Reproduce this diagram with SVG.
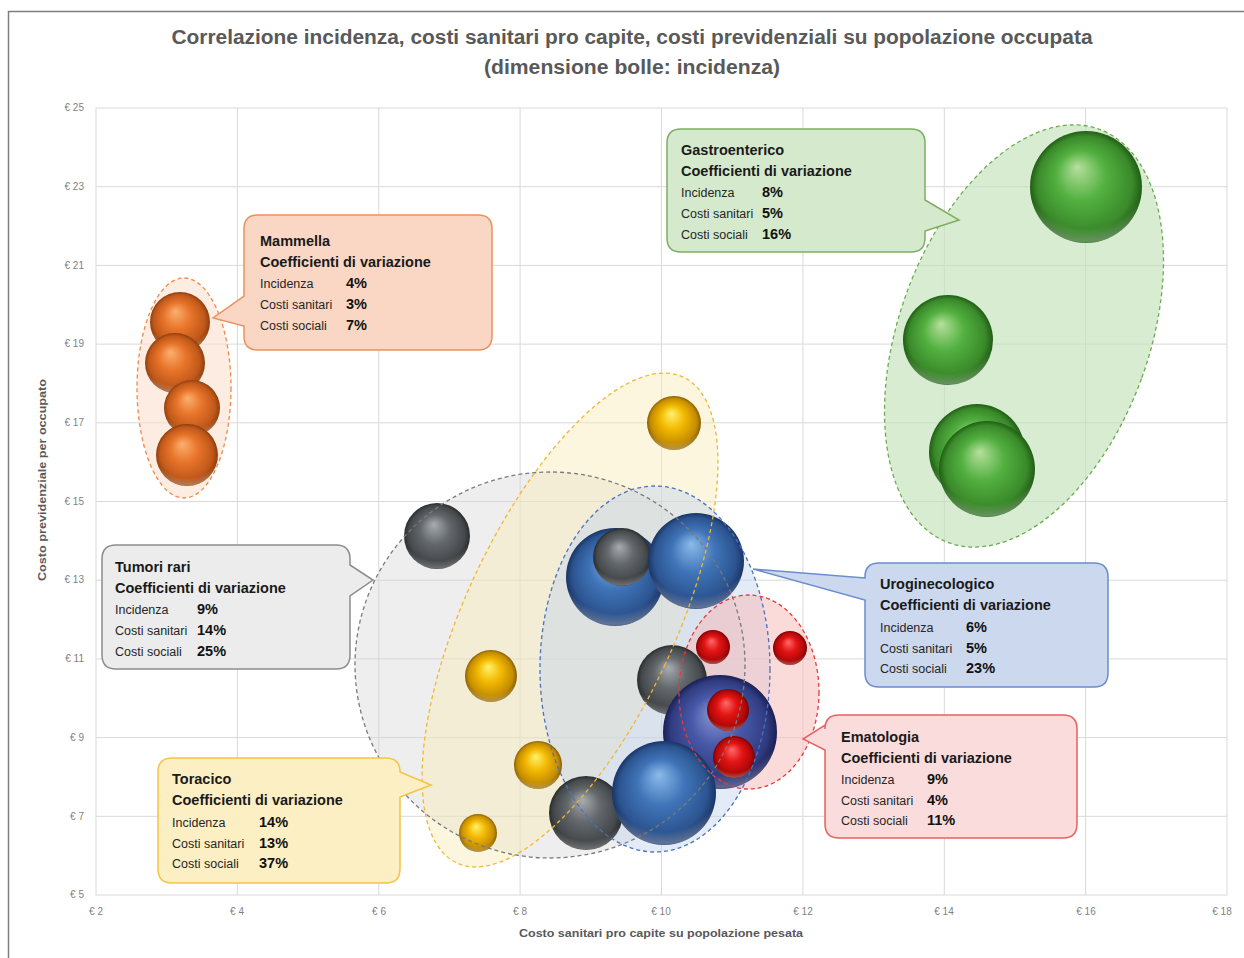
<svg xmlns="http://www.w3.org/2000/svg" width="1244" height="958" viewBox="0 0 1244 958">
<style>
.grid{stroke:#d9d9d9;stroke-width:1;fill:none}
.tick{font-family:"Liberation Sans",Arial,sans-serif;font-size:10px;fill:#7f7f7f}
.ttl{font-family:"Liberation Sans",Arial,sans-serif;font-size:20px;font-weight:bold;fill:#595959}
.axt{font-family:"Liberation Sans",Arial,sans-serif;font-size:11px;font-weight:bold;fill:#595959}
.ch{font-family:"Liberation Sans",Arial,sans-serif;font-size:14.5px;font-weight:bold;fill:#1a1a1a}
.cl{font-family:"Liberation Sans",Arial,sans-serif;font-size:12.5px;fill:#262626}
.cv{font-family:"Liberation Sans",Arial,sans-serif;font-size:14.5px;font-weight:bold;fill:#111}
.ell{stroke-width:1.3;stroke-dasharray:4 3}
.co{stroke-width:1.5}
.rim{fill:url(#gRim)}
</style>
<defs>
<radialGradient id="gOr" cx="0.5" cy="0.5" r="0.5" fx="0.42" fy="0.32"><stop offset="0" stop-color="#fbb070"/><stop offset="0.45" stop-color="#e8742a"/><stop offset="0.85" stop-color="#c0581a"/><stop offset="1" stop-color="#8e3e0c"/></radialGradient>
<radialGradient id="gGo" cx="0.5" cy="0.5" r="0.5" fx="0.45" fy="0.32"><stop offset="0" stop-color="#fff36a"/><stop offset="0.45" stop-color="#f2b800"/><stop offset="0.85" stop-color="#c58d00"/><stop offset="1" stop-color="#8a6000"/></radialGradient>
<radialGradient id="gGr" cx="0.5" cy="0.5" r="0.5" fx="0.45" fy="0.32"><stop offset="0" stop-color="#a9adb1"/><stop offset="0.45" stop-color="#63686c"/><stop offset="0.85" stop-color="#45494c"/><stop offset="1" stop-color="#2a2c2e"/></radialGradient>
<radialGradient id="gBl" cx="0.5" cy="0.5" r="0.5" fx="0.45" fy="0.32"><stop offset="0" stop-color="#8cbbea"/><stop offset="0.45" stop-color="#3f74b8"/><stop offset="0.85" stop-color="#2c5490"/><stop offset="1" stop-color="#1a3566"/></radialGradient>
<radialGradient id="gPu" cx="0.5" cy="0.5" r="0.5" fx="0.45" fy="0.32"><stop offset="0" stop-color="#8c9ad6"/><stop offset="0.45" stop-color="#4858a8"/><stop offset="0.85" stop-color="#303c80"/><stop offset="1" stop-color="#1a1f55"/></radialGradient>
<radialGradient id="gRe" cx="0.5" cy="0.5" r="0.5" fx="0.45" fy="0.32"><stop offset="0" stop-color="#ff6a6a"/><stop offset="0.45" stop-color="#e31414"/><stop offset="0.85" stop-color="#b00808"/><stop offset="1" stop-color="#7a0000"/></radialGradient>
<radialGradient id="gGn" cx="0.5" cy="0.5" r="0.5" fx="0.42" fy="0.32"><stop offset="0" stop-color="#b6e09c"/><stop offset="0.45" stop-color="#52b040"/><stop offset="0.85" stop-color="#3a8a2a"/><stop offset="1" stop-color="#215e16"/></radialGradient>
<radialGradient id="gRim" cx="0.5" cy="0.3" r="0.72"><stop offset="0.8" stop-color="#ffffff" stop-opacity="0"/><stop offset="0.95" stop-color="#ffffff" stop-opacity="0.3"/><stop offset="1" stop-color="#ffffff" stop-opacity="0.05"/></radialGradient>
</defs>
<rect width="1244" height="958" fill="#ffffff"/>
<path d="M8.5,958 V11.5 H1244" fill="none" stroke="#7f7f7f" stroke-width="1.5"/>
<g id="title">
<text class="ttl" x="632" y="44" text-anchor="middle" textLength="921" lengthAdjust="spacingAndGlyphs">Correlazione incidenza, costi sanitari pro capite, costi previdenziali su popolazione occupata</text>
<text class="ttl" x="632" y="74" text-anchor="middle" textLength="296" lengthAdjust="spacingAndGlyphs">(dimensione bolle: incidenza)</text>
</g>
<g id="grid">
<rect class="grid" x="96" y="108" width="1131" height="787"/>
<path class="grid" d="M237.4,108V895M378.8,108V895M520.1,108V895M661.5,108V895M802.9,108V895M944.3,108V895M1085.6,108V895M96,186.7H1227M96,265.4H1227M96,344.1H1227M96,422.8H1227M96,501.5H1227M96,580.2H1227M96,658.9H1227M96,737.6H1227M96,816.3H1227"/>
</g>
<g id="axes">
<g class="tick" text-anchor="end">
<text x="84" y="111">€ 25</text><text x="84" y="190">€ 23</text><text x="84" y="269">€ 21</text><text x="84" y="347">€ 19</text><text x="84" y="426">€ 17</text><text x="84" y="505">€ 15</text><text x="84" y="583">€ 13</text><text x="84" y="662">€ 11</text><text x="84" y="741">€ 9</text><text x="84" y="820">€ 7</text><text x="84" y="898">€ 5</text>
</g>
<g class="tick" text-anchor="middle">
<text x="96" y="915">€ 2</text><text x="237" y="915">€ 4</text><text x="379" y="915">€ 6</text><text x="520" y="915">€ 8</text><text x="661" y="915">€ 10</text><text x="803" y="915">€ 12</text><text x="944" y="915">€ 14</text><text x="1086" y="915">€ 16</text><text x="1222" y="915">€ 18</text>
</g>
<text class="axt" x="661" y="937" text-anchor="middle" textLength="284" lengthAdjust="spacingAndGlyphs">Costo sanitari pro capite su popolazione pesata</text>
<text class="axt" transform="translate(46,480) rotate(-90)" text-anchor="middle" textLength="202" lengthAdjust="spacingAndGlyphs">Costo previdenziale per occupato</text>
</g>
<g id="cluster-fills">
<ellipse cx="184" cy="388" rx="47" ry="110" fill="#fbe0cf" fill-opacity="0.6"/>
<ellipse cx="550" cy="665" rx="195" ry="193" fill="#d4d4d4" fill-opacity="0.4"/>
<ellipse cx="570" cy="620" rx="105" ry="268" transform="rotate(25 570 620)" fill="#fbeab8" fill-opacity="0.45"/>
<ellipse cx="655" cy="669" rx="115" ry="183" fill="#c2d3ee" fill-opacity="0.45"/>
<ellipse cx="749" cy="692" rx="70" ry="97" fill="#f7bcbc" fill-opacity="0.55"/>
<ellipse cx="1024" cy="336" rx="125" ry="220" transform="rotate(20 1024 336)" fill="#c3e2b8" fill-opacity="0.65"/>
</g>
<g id="bubbles">
<g id="b-mam-1"><circle cx="180" cy="322" r="30" fill="url(#gOr)"/><circle class="rim" cx="180" cy="322" r="30"/></g>
<g id="b-mam-2"><circle cx="175" cy="363" r="30" fill="url(#gOr)"/><circle class="rim" cx="175" cy="363" r="30"/></g>
<g id="b-mam-3"><circle cx="192" cy="408" r="28" fill="url(#gOr)"/><circle class="rim" cx="192" cy="408" r="28"/></g>
<g id="b-mam-4"><circle cx="187" cy="455" r="31" fill="url(#gOr)"/><circle class="rim" cx="187" cy="455" r="31"/></g>
<g id="b-gas-1"><circle cx="1086" cy="187" r="56" fill="url(#gGn)"/><circle class="rim" cx="1086" cy="187" r="56"/></g>
<g id="b-gas-2"><circle cx="948" cy="340" r="45" fill="url(#gGn)"/><circle class="rim" cx="948" cy="340" r="45"/></g>
<g id="b-gas-3"><circle cx="977" cy="452" r="48" fill="url(#gGn)"/><circle class="rim" cx="977" cy="452" r="48"/></g>
<g id="b-gas-4"><circle cx="987" cy="469" r="48" fill="url(#gGn)"/><circle class="rim" cx="987" cy="469" r="48"/></g>
<g id="b-tum-1"><circle cx="437" cy="536" r="33" fill="url(#gGr)"/><circle class="rim" cx="437" cy="536" r="33"/></g>
<g id="b-uro-1"><circle cx="615" cy="577" r="49" fill="url(#gBl)"/><circle class="rim" cx="615" cy="577" r="49"/></g>
<g id="b-tum-2"><circle cx="622" cy="557" r="29" fill="url(#gGr)"/><circle class="rim" cx="622" cy="557" r="29"/></g>
<g id="b-uro-2"><circle cx="696" cy="561" r="48" fill="url(#gBl)"/><circle class="rim" cx="696" cy="561" r="48"/></g>
<g id="b-tum-3"><circle cx="672" cy="680" r="35" fill="url(#gGr)"/><circle class="rim" cx="672" cy="680" r="35"/></g>
<g id="b-uro-3"><circle cx="720" cy="732" r="57" fill="url(#gPu)"/><circle class="rim" cx="720" cy="732" r="57"/></g>
<g id="b-tum-4"><circle cx="586" cy="813" r="37" fill="url(#gGr)"/><circle class="rim" cx="586" cy="813" r="37"/></g>
<g id="b-uro-4"><circle cx="664" cy="793" r="52" fill="url(#gBl)"/><circle class="rim" cx="664" cy="793" r="52"/></g>
<g id="b-tor-1"><circle cx="674" cy="423" r="27" fill="url(#gGo)"/><circle class="rim" cx="674" cy="423" r="27"/></g>
<g id="b-tor-2"><circle cx="491" cy="676" r="26" fill="url(#gGo)"/><circle class="rim" cx="491" cy="676" r="26"/></g>
<g id="b-tor-3"><circle cx="538" cy="765" r="24" fill="url(#gGo)"/><circle class="rim" cx="538" cy="765" r="24"/></g>
<g id="b-tor-4"><circle cx="478" cy="833" r="19" fill="url(#gGo)"/><circle class="rim" cx="478" cy="833" r="19"/></g>
<g id="b-ema-1"><circle cx="713" cy="647" r="17" fill="url(#gRe)"/><circle class="rim" cx="713" cy="647" r="17"/></g>
<g id="b-ema-2"><circle cx="790" cy="648" r="17" fill="url(#gRe)"/><circle class="rim" cx="790" cy="648" r="17"/></g>
<g id="b-ema-3"><circle cx="728" cy="710" r="21" fill="url(#gRe)"/><circle class="rim" cx="728" cy="710" r="21"/></g>
<g id="b-ema-4"><circle cx="734" cy="757" r="21" fill="url(#gRe)"/><circle class="rim" cx="734" cy="757" r="21"/></g>
</g>
<g id="cluster-outlines" fill="none">
<ellipse class="ell" cx="184" cy="388" rx="47" ry="110" stroke="#ee8a4a"/>
<ellipse class="ell" cx="550" cy="665" rx="195" ry="193" stroke="#7a7a7a"/>
<ellipse class="ell" cx="570" cy="620" rx="105" ry="268" transform="rotate(25 570 620)" stroke="#f2b730"/>
<ellipse class="ell" cx="655" cy="669" rx="115" ry="183" stroke="#4a72c0"/>
<ellipse class="ell" cx="749" cy="692" rx="70" ry="97" stroke="#e83a3a"/>
<ellipse class="ell" cx="1024" cy="336" rx="125" ry="220" transform="rotate(20 1024 336)" stroke="#6aac50"/>
</g>
<g id="callout-mammella">
<path class="co" d="M258,215 H478 Q492,215 492,229 V336 Q492,350 478,350 H258 Q244,350 244,336 V326 L213,318 L244,296 V229 Q244,215 258,215 Z" fill="#f9d7c4" stroke="#e8935e"/>
<text class="ch" x="260" y="246">Mammella</text>
<text class="ch" x="260" y="267">Coefficienti di variazione</text>
<text class="cl" x="260" y="288">Incidenza</text><text class="cv" x="346" y="288">4%</text>
<text class="cl" x="260" y="309">Costi sanitari</text><text class="cv" x="346" y="309">3%</text>
<text class="cl" x="260" y="330">Costi sociali</text><text class="cv" x="346" y="330">7%</text>
</g>
<g id="callout-gastroenterico">
<path class="co" d="M681,129 H911 Q925,129 925,143 V200 L959,220 L925,231 V238 Q925,252 911,252 H681 Q667,252 667,238 V143 Q667,129 681,129 Z" fill="#d5eacd" stroke="#7cae62"/>
<text class="ch" x="681" y="155">Gastroenterico</text>
<text class="ch" x="681" y="176">Coefficienti di variazione</text>
<text class="cl" x="681" y="197">Incidenza</text><text class="cv" x="762" y="197">8%</text>
<text class="cl" x="681" y="218">Costi sanitari</text><text class="cv" x="762" y="218">5%</text>
<text class="cl" x="681" y="239">Costi sociali</text><text class="cv" x="762" y="239">16%</text>
</g>
<g id="callout-tumori-rari">
<path class="co" d="M116,545 H336 Q350,545 350,559 V565 L373,580 L350,596 V655 Q350,669 336,669 H116 Q102,669 102,655 V559 Q102,545 116,545 Z" fill="#ececec" stroke="#8c8c8c"/>
<text class="ch" x="115" y="572">Tumori rari</text>
<text class="ch" x="115" y="593">Coefficienti di variazione</text>
<text class="cl" x="115" y="614">Incidenza</text><text class="cv" x="197" y="614">9%</text>
<text class="cl" x="115" y="635">Costi sanitari</text><text class="cv" x="197" y="635">14%</text>
<text class="cl" x="115" y="656">Costi sociali</text><text class="cv" x="197" y="656">25%</text>
</g>
<g id="callout-uroginecologico">
<path class="co" d="M879,563 H1094 Q1108,563 1108,577 V673 Q1108,687 1094,687 H879 Q865,687 865,673 V600 L753,569 L865,578 V577 Q865,563 879,563 Z" fill="#cbd8ed" stroke="#6a8ccc"/>
<text class="ch" x="880" y="589">Uroginecologico</text>
<text class="ch" x="880" y="610">Coefficienti di variazione</text>
<text class="cl" x="880" y="632">Incidenza</text><text class="cv" x="966" y="632">6%</text>
<text class="cl" x="880" y="653">Costi sanitari</text><text class="cv" x="966" y="653">5%</text>
<text class="cl" x="880" y="673">Costi sociali</text><text class="cv" x="966" y="673">23%</text>
</g>
<g id="callout-toracico">
<path class="co" d="M172,758 H386 Q400,758 400,772 L431,785 L400,797 V869 Q400,883 386,883 H172 Q158,883 158,869 V772 Q158,758 172,758 Z" fill="#fdefc4" stroke="#f5c344"/>
<text class="ch" x="172" y="784">Toracico</text>
<text class="ch" x="172" y="805">Coefficienti di variazione</text>
<text class="cl" x="172" y="827">Incidenza</text><text class="cv" x="259" y="827">14%</text>
<text class="cl" x="172" y="848">Costi sanitari</text><text class="cv" x="259" y="848">13%</text>
<text class="cl" x="172" y="868">Costi sociali</text><text class="cv" x="259" y="868">37%</text>
</g>
<g id="callout-ematologia">
<path class="co" d="M839,715 H1063 Q1077,715 1077,729 V824 Q1077,838 1063,838 H839 Q825,838 825,824 V750 L803,739 L825,725 V729 Q825,715 839,715 Z" fill="#fbdcdc" stroke="#e8605f"/>
<text class="ch" x="841" y="742">Ematologia</text>
<text class="ch" x="841" y="763">Coefficienti di variazione</text>
<text class="cl" x="841" y="784">Incidenza</text><text class="cv" x="927" y="784">9%</text>
<text class="cl" x="841" y="805">Costi sanitari</text><text class="cv" x="927" y="805">4%</text>
<text class="cl" x="841" y="825">Costi sociali</text><text class="cv" x="927" y="825">11%</text>
</g>
</svg>
